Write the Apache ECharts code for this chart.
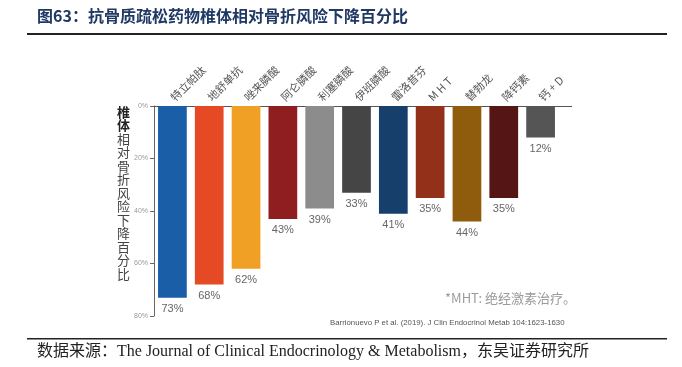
<!DOCTYPE html>
<html><head><meta charset="utf-8">
<script src="https://cdn.jsdelivr.net/npm/echarts@6/dist/echarts.min.js"></script>
<style>html,body{margin:0;padding:0;background:#fff}#c{width:682px;height:367px}</style>
</head><body><div id="c"></div>
<script>
var categories = ['特立帕肽','地舒单抗','唑来膦酸','阿仑膦酸','利塞膦酸','伊班膦酸','雷洛昔芬','M H T','替勃龙','降钙素','钙 + D'];
var values = [73, 68, 62, 43, 39, 33, 41, 35, 44, 35, 12];
var colors = ['#1a5ea8','#e64a25','#f0a024','#8e1e20','#8c8c8c','#454545','#163f6b','#93301a','#8f5b0d','#561515','#555555'];
var yTicks = [0, 20, 40, 60, 80];
var title = '图63：抗骨质疏松药物椎体相对骨折风险下降百分比';
var source = '数据来源：The Journal of Clinical Endocrinology & Metabolism，东吴证券研究所';
var note = '*MHT: 绝经激素治疗。';
var cite = 'Barrionuevo P et al. (2019). J Clin Endocrinol Metab 104:1623-1630';
var yNameBold = '椎体';
var yNameRest = '相对骨折风险下降百分比';

var chart = echarts.init(document.getElementById('c'));
var nameRich = yNameBold.split('').map(function(ch){return '{b|'+ch+'}';})
  .concat(yNameRest.split('').map(function(ch){return '{n|'+ch+'}';})).join('\n');
chart.setOption({
  animation: false,
  grid: {left: 154, right: 123, top: 106, bottom: 51, containLabel: false},
  xAxis: {
    type: 'category', position: 'top', data: categories,
    axisLine: {show: true, lineStyle: {color: '#555', width: 1}},
    axisTick: {show: false},
    axisLabel: {rotate: 45, color: '#555', fontSize: 11, margin: 7,
      fontFamily: 'Noto Sans CJK SC'}
  },
  yAxis: {
    type: 'value', inverse: true, min: 0, max: 80, interval: 20,
    axisLine: {show: true, lineStyle: {color: '#666', width: 1}},
    axisTick: {show: true, length: 4, lineStyle: {color: '#666'}},
    splitLine: {show: false},
    axisLabel: {formatter: function(v){return yTicks.indexOf(v) >= 0 ? v + '%' : '';},
      color: '#999', fontSize: 7, margin: 6, fontFamily: 'Liberation Sans'}
  },
  series: [{
    type: 'bar', barCategoryGap: '22%',
    data: values.map(function(v, i){return {value: v, itemStyle: {color: colors[i]}};}),
    label: {show: true, position: 'bottom', distance: 6, formatter: '{c}%',
      color: '#666', fontSize: 11, fontFamily: 'Liberation Sans'}
  }],
  graphic: [
    {type: 'line', shape: {x1: 559, y1: 106.5, x2: 572, y2: 106.5}, style: {stroke: '#555', lineWidth: 1}},
    {type: 'text', left: 37, top: 8, style: {text: title, fill: '#1f3864', fontSize: 16, fontWeight: 'bold', fontFamily: 'Noto Sans CJK SC'}},
    {type: 'rect', shape: {x: 27, y: 33, width: 640, height: 2}, style: {fill: '#222'}},
    {type: 'rect', shape: {x: 27, y: 338, width: 640, height: 1.5}, style: {fill: '#222'}},
    {type: 'text', left: 37, top: 344, style: {text: source, fill: '#222', fontSize: 16, fontFamily: 'Liberation Serif, Noto Sans CJK SC'}},
    {type: 'text', left: 445, top: 292, style: {text: note, fill: '#9a9a9a', fontSize: 13, fontFamily: 'Noto Sans CJK SC'}},
    {type: 'text', left: 330, top: 319, style: {text: cite, fill: '#555', fontSize: 7.8, fontFamily: 'Liberation Sans'}},
    {type: 'text', left: 117, top: 105, style: {text: nameRich, lineHeight: 13.5,
      rich: {b: {fontSize: 13, fontWeight: 'bold', fill: '#222', lineHeight: 13.5, fontFamily: 'Noto Sans CJK SC'},
             n: {fontSize: 13, fill: '#444', lineHeight: 13.5, fontFamily: 'Noto Sans CJK SC'}}}}
  ]
});
</script></body></html>
